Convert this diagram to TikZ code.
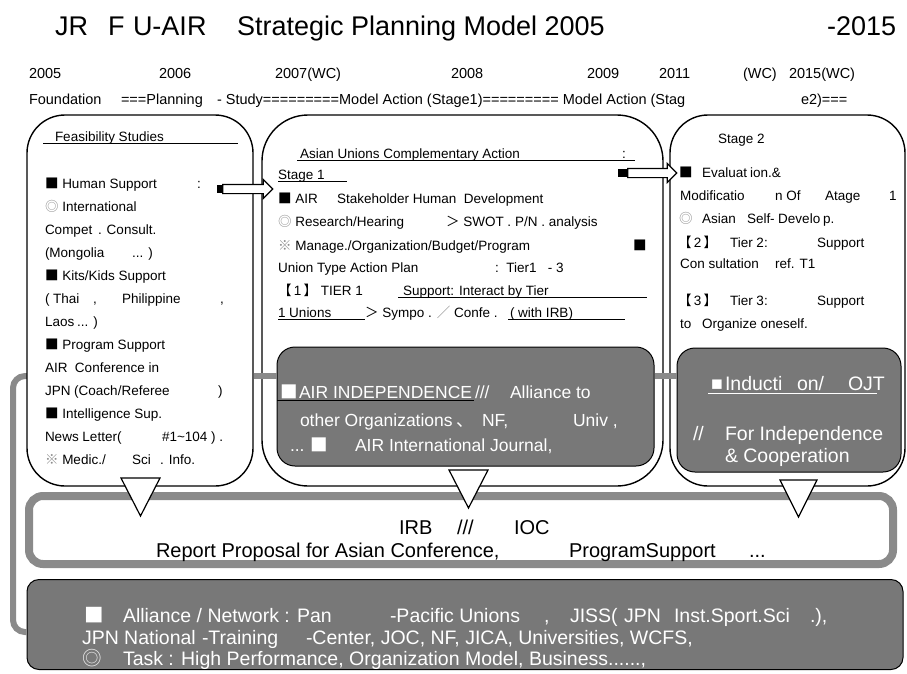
\documentclass[tikz,border=0pt]{standalone}
\usepackage{fontspec}
\setmainfont{Liberation Sans}
\newfontfamily\cjkf{Noto Sans CJK JP}
\usetikzlibrary{shapes.arrows}
\definecolor{gfill}{RGB}{120,120,120}
\definecolor{gline}{RGB}{138,138,138}
\definecolor{symg}{RGB}{140,140,140}
\newcommand\msq{{\cjkf ■}}
\newcommand\mdc{{\cjkf\color{symg}◎}}
\newcommand\mdcw{{\cjkf\color{white!85!gray}◎}}
\newcommand\mko{{\cjkf\color{symg}※}}
\newcommand\mlb{{\cjkf 【}}
\newcommand\mrb{{\cjkf 】}}
\newcommand\mten{{\cjkf 、}}
\newcommand\mgt{{\cjkf ＞}}
\newcommand\msl{{\cjkf\color{symg}／}}
\newcommand\sztitle{\fontsize{27}{30}\selectfont}
\newcommand\sztop{\fontsize{14.5}{17}\selectfont}
\newcommand\szbox{\fontsize{13.5}{16}\selectfont}
\newcommand\szgray{\fontsize{17.5}{20}\selectfont}
\newcommand\szbig{\fontsize{19.5}{22}\selectfont}
\newcommand\mytx[4]{\node[tx] (#1) at (#2,#3) {#4};}
\tikzset{
  tx/.style={anchor=base west, inner sep=0pt, outer sep=0pt},
  wbox/.style={draw=black, line width=1.4pt, fill=white, inner sep=0pt, rounded corners=38pt},
  gbox/.style={draw=black, line width=1pt, fill=gfill, inner sep=0pt, rounded corners=18pt},
  irbbox/.style={draw=gline, line width=8pt, fill=white, inner sep=0pt, rounded corners=14pt},
  btmbox/.style={draw=black, line width=1pt, fill=gfill, inner sep=0pt, rounded corners=12pt},
  gbar/.style={draw=gline, line width=6pt},
  tri/.style={draw=black, line width=1.2pt, fill=white, line join=miter},
  hollow/.style={single arrow, draw=black, line width=1.1pt, fill=white, inner sep=4pt,
     single arrow head extend=5pt, single arrow head indent=0pt},
  tailblk/.style={fill=black, inner sep=0pt, minimum height=8pt},
  ul/.style={line width=1.1pt}
}
\begin{document}
\begin{tikzpicture}[x=1pt,y=-1pt]
\useasboundingbox (0,0) rectangle (907,673);
\fill[white] (0,0) rectangle (907,673);

% helper coordinates
\coordinate (bary) at (0,376);
\coordinate (bary2) at (0,632);
\coordinate (lx) at (13,500);

% ---------- title and time line ----------
\begin{scope}[font=\sztitle]
\mytx{ti1}{55}{35}{JR}
\mytx{ti2}{108}{35}{F}
\mytx{ti3}{133}{35}{U-AIR}
\mytx{ti4}{237}{35}{Strategic Planning Model 2005}
\mytx{ti5}{827}{35}{-2015}
\end{scope}
\begin{scope}[font=\sztop]
\mytx{y1}{29}{78}{2005}
\mytx{y2}{159}{78}{2006}
\mytx{y3}{275}{78}{2007(WC)}
\mytx{y4}{451}{78}{2008}
\mytx{y5}{587}{78}{2009}
\mytx{y6}{659}{78}{2011}
\mytx{y7}{743}{78}{(WC)}
\mytx{y8}{789}{78}{2015(WC)}
\mytx{r1}{29}{104}{Foundation}
\mytx{r2}{121}{104}{===Planning}
\mytx{r3}{217}{104}{- Study=========Model Action (Stage1)========= Model Action (Stag}
\mytx{r4}{801}{104}{e2)===}
\end{scope}

% ---------- bottom box and left gray line (behind boxes) ----------
\node[btmbox, minimum width=876pt, minimum height=90pt] (bgray) at (465,624.5) {};
\draw[gbar, rounded corners=12pt] (bary -| 27,0) -| (lx) |- (bary2 -| bgray.west);

% ---------- three stage boxes ----------
\node[wbox, minimum width=226pt, minimum height=371pt] (lbox) at (140,300.5) {};
\node[wbox, rounded corners=46pt, minimum width=401pt, minimum height=371pt] (mbox) at (462.5,300.5) {};
\node[wbox, minimum width=235pt, minimum height=371pt] (rbox) at (787.5,300.5) {};

\node[gbox, minimum width=377pt, minimum height=119pt] (mgray) at (465.5,406.5) {};
\node[gbox, minimum width=224pt, minimum height=124pt] (rgray) at (789,410) {};

\draw[gbar] (lbox.east |- bary) -- (mgray.west |- bary);
\draw[gbar] (mgray.east |- bary) -- (rgray.west |- bary);

% ---------- IRB box ----------
\node[irbbox, minimum width=864pt, minimum height=68pt] (irb) at (461,530) {};

% ---------- down triangles ----------
\draw[tri] (121,478) -- (160,478) -- (140.5,516) -- cycle;
\draw[tri] (449,470) -- (488,470) -- (468.5,508) -- cycle;
\draw[tri] (780,480) -- (817,480) -- (798.5,517) -- cycle;

% ---------- hollow arrows ----------
\node[tailblk, minimum width=5pt] (tl1) at (219.5,189) {};
\node[hollow, minimum height=50pt, anchor=tail] (a1) at (tl1.east) {};
\node[tailblk, minimum width=9pt] (tl2) at (622.5,173) {};
\node[hollow, minimum height=49pt, anchor=tail] (a2) at (tl2.east) {};

% ---------- left box text ----------
\begin{scope}[font=\szbox]
\mytx{L0}{55}{141}{Feasibility Studies}
\mytx{L1}{45}{188}{\msq\ Human Support}
\mytx{L1b}{197}{188}{:}
\mytx{L2}{45}{211}{\mdc\ International}
\mytx{L3}{45}{234}{Compet}
\mytx{L3b}{98}{234}{. Consult.}
\mytx{L4}{45}{257}{(Mongolia}
\mytx{L4b}{132}{257}{... )}
\mytx{L5}{45}{280}{\msq\ Kits/Kids Support}
\mytx{L6}{45}{303}{( Thai}
\mytx{L6b}{93}{303}{,}
\mytx{L6c}{122}{303}{Philippine}
\mytx{L6d}{220}{303}{,}
\mytx{L7}{45}{326}{Laos}
\mytx{L7b}{77}{326}{... )}
\mytx{L8}{45}{349}{\msq\ Program Support}
\mytx{L9}{45}{372}{AIR\ \ Conference in}
\mytx{L10}{45}{395}{JPN (Coach/Referee}
\mytx{L10b}{218}{395}{)}
\mytx{L11}{45}{418}{\msq\ Intelligence Sup.}
\mytx{L12}{45}{441}{News Letter(}
\mytx{L12b}{162}{441}{\#1\textasciitilde104 ) .}
\mytx{L13}{45}{464}{\mko\ Medic./}
\mytx{L13b}{132}{464}{Sci}
\mytx{L13c}{160}{464}{. Info.}

% ---------- middle box text ----------
\mytx{M1}{300}{158}{Asian Unions Complementary Action}
\mytx{M1b}{622}{158}{:}
\mytx{M2}{278}{179}{Stage 1}
\mytx{M3}{278}{203}{\msq\ AIR}
\mytx{M3b}{337}{203}{Stakeholder Human\ \ Development}
\mytx{M4}{278}{226}{\mdc\ Research/Hearing}
\mytx{M4b}{446}{226}{\mgt\ SWOT . P/N . analysis}
\mytx{M5}{278}{250}{\mko\ Manage./Organization/Budget/Program}
\mytx{M5b}{633}{250}{\msq}
\mytx{M6}{278}{272}{Union Type Action Plan}
\mytx{M6b}{495}{272}{:\ \ Tier1\ \ \ - 3}
\mytx{M7}{278}{295}{\mlb\,1\,\mrb\ TIER 1}
\mytx{M7b}{403}{295}{Support: Interact by Tier}
\mytx{M8}{278}{317}{1 Unions}
\mytx{M8b}{365}{317}{\mgt\ Sympo . \msl\ Confe .}
\mytx{M8c}{510}{317}{( with IRB)}

% ---------- right box text ----------
\mytx{R0}{718}{143}{Stage 2}
\mytx{R1}{679}{177}{\msq}
\mytx{R1b}{702}{177}{Evaluat}
\mytx{R1c}{750}{177}{ion.\&}
\mytx{R2}{680}{200}{Modificatio}
\mytx{R2b}{775}{200}{n Of}
\mytx{R2c}{825}{200}{Atage}
\mytx{R2d}{889}{200}{1}
\mytx{R3}{679}{223}{\mdc}
\mytx{R3b}{702}{223}{Asian}
\mytx{R3c}{747}{223}{Self}
\mytx{R3d}{770}{223}{- Develo}
\mytx{R3e}{823}{223}{p.}
\mytx{R4}{678}{247}{\mlb\,2\,\mrb}
\mytx{R4b}{730}{247}{Tier 2:}
\mytx{R4c}{817}{247}{Support}
\mytx{R5}{680}{268}{Con sultation}
\mytx{R5b}{775}{268}{ref. T1}
\mytx{R6}{678}{305}{\mlb\,3\,\mrb}
\mytx{R6b}{730}{305}{Tier 3:}
\mytx{R6c}{817}{305}{Support}
\mytx{R7}{680}{328}{to}
\mytx{R7b}{702}{328}{Organize oneself.}
\end{scope}

% underlines
\draw[ul] (43,143.5) -- (238,143.5);
\draw[ul] (297,160.5) -- (635,160.5);
\draw[ul] (278,181.5) -- (347,181.5);
\draw[ul] (398,297.5) -- (647,297.5);
\draw[ul] (278,319.5) -- (365,319.5);
\draw[ul] (508,319.5) -- (625,319.5);

% ---------- middle gray text ----------
\begin{scope}[font=\szgray, text=white]
\mytx{G1}{280}{398}{\msq}
\mytx{G1b}{299}{398}{AIR INDEPENDENCE}
\mytx{G1c}{475}{398}{///}
\mytx{G1d}{510}{398}{Alliance to}
\mytx{G2}{300}{426}{other Organizations}
\mytx{G2b}{456}{426}{\mten}
\mytx{G2c}{482}{426}{NF,}
\mytx{G2d}{573}{426}{Univ ,}
\mytx{G3}{290}{451}{...}
\mytx{G3b}{310}{451}{\msq}
\mytx{G3c}{355}{451}{AIR International Journal,}
\end{scope}
\draw[line width=1pt, black] (277,400.5) -- (474,400.5);

% ---------- right gray text ----------
\begin{scope}[font=\szbig, text=white]
\mytx{H1}{711}{390}{■}
\mytx{H1b}{725}{390}{Inducti}
\mytx{H1c}{797}{390}{on/}
\mytx{H1d}{848}{390}{OJT}
\mytx{H2}{693}{440}{//}
\mytx{H2b}{725}{440}{For Independence}
\mytx{H3}{725}{462}{\& Cooperation}
\end{scope}
\draw[line width=1.2pt, white] (708,393.5) -- (877,393.5);

% ---------- IRB text ----------
\begin{scope}[font=\fontsize{20}{23}\selectfont]
\mytx{I1}{399}{534}{IRB}
\mytx{I1b}{457}{534}{///}
\mytx{I1c}{514}{534}{IOC}
\mytx{I2}{156}{557}{Report Proposal for Asian Conference,}
\mytx{I2b}{569}{557}{ProgramSupport}
\mytx{I2c}{749}{557}{...}
\end{scope}

% ---------- bottom gray text ----------
\begin{scope}[font=\szbig, text=white]
\mytx{B1}{84}{622}{\msq}
\mytx{B1b}{123}{622}{Alliance / Network : Pan}
\mytx{B1c}{390}{622}{-Pacific Unions}
\mytx{B1d}{544}{622}{,}
\mytx{B1e}{570}{622}{JISS(}
\mytx{B1f}{624}{622}{JPN}
\mytx{B1g}{674}{622}{Inst.Sport.Sci}
\mytx{B1h}{810}{622}{.),}
\mytx{B2}{82}{644}{JPN National}
\mytx{B2b}{202}{644}{-Training}
\mytx{B2c}{306}{644}{-Center, JOC, NF, JICA, Universities, WCFS,}
\mytx{B3}{82}{665}{\mdcw}
\mytx{B3b}{123}{665}{Task : High Performance, Organization Model, Business......,}
\end{scope}
\end{tikzpicture}
\end{document}
